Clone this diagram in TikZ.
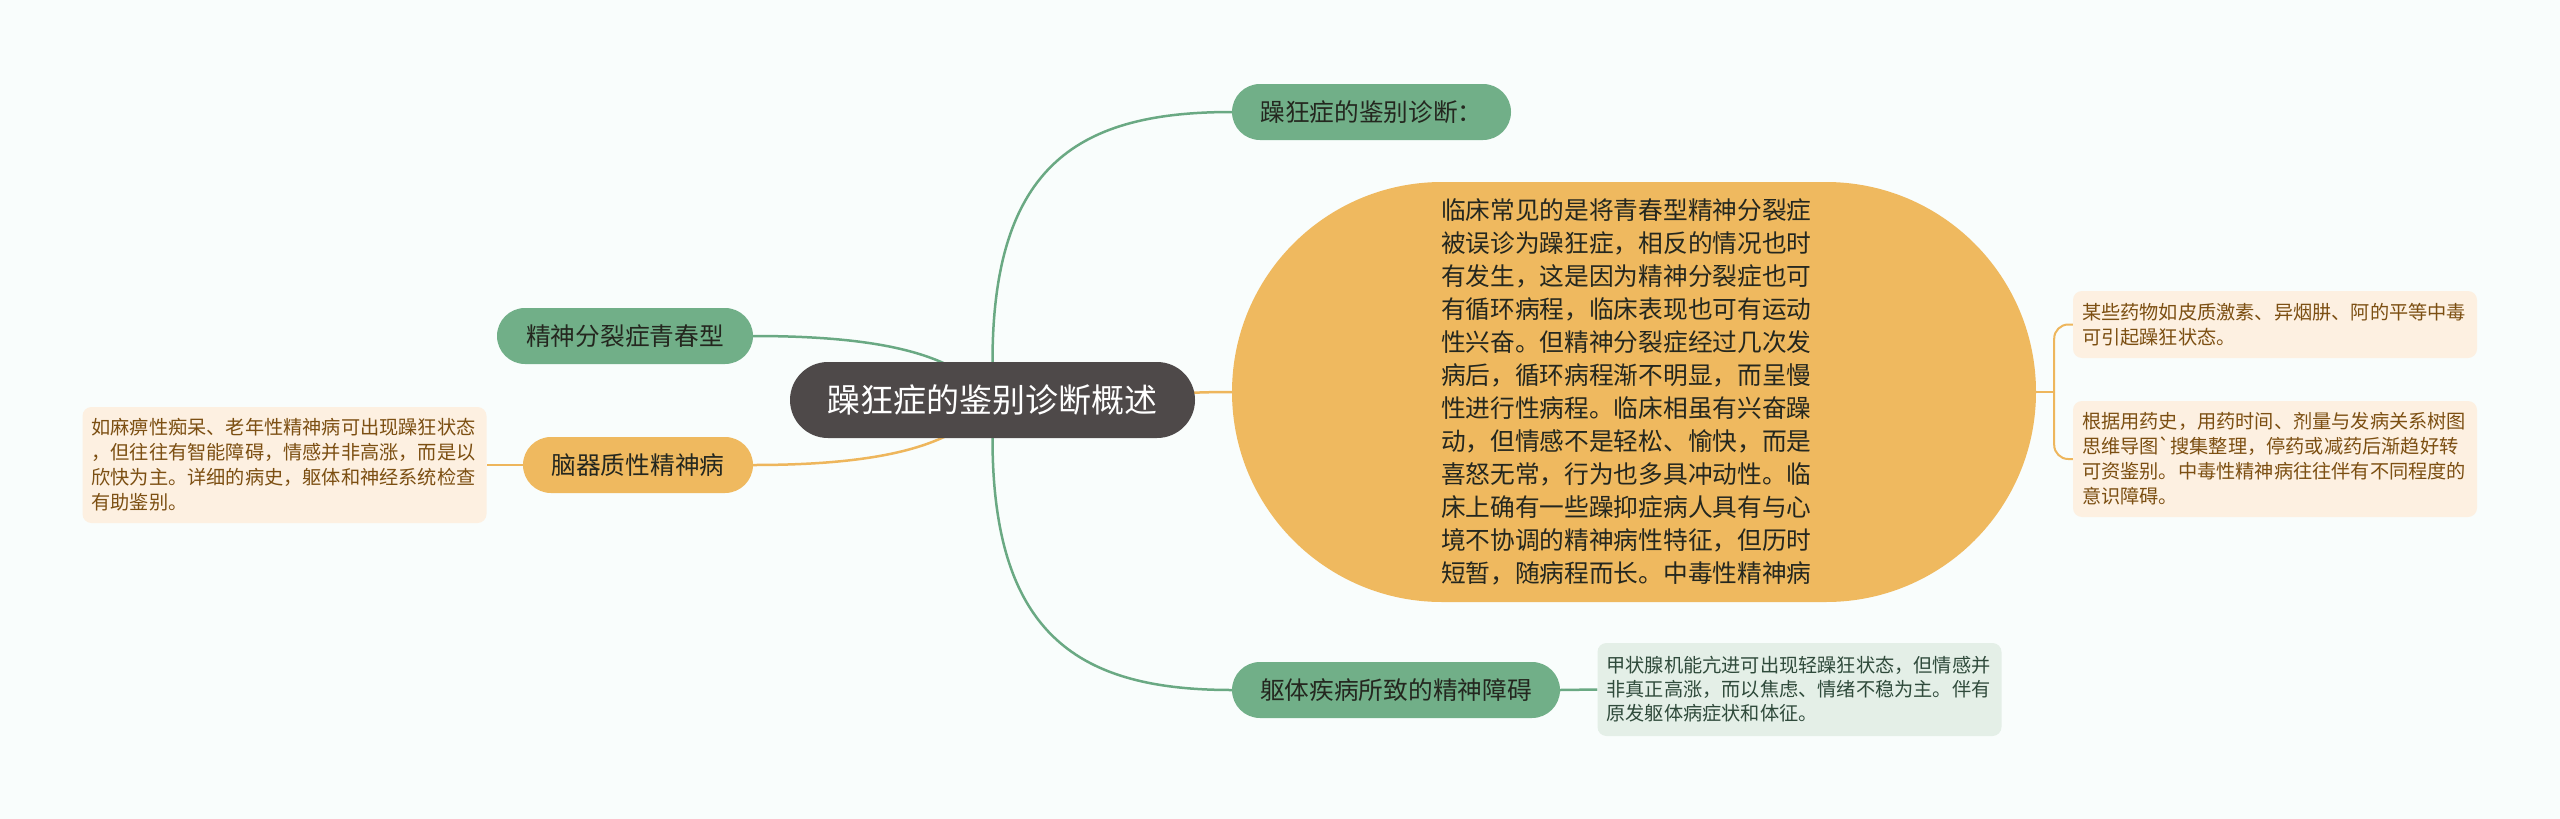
\documentclass[tikz,border=0pt]{standalone}
\usepackage{fontspec}
\setmainfont{Noto Sans CJK SC}[Ligatures=TeXOff]
\usetikzlibrary{positioning}

\definecolor{bgc}{HTML}{F9FDFC}
\definecolor{grn}{HTML}{71AF88}
\definecolor{grnline}{HTML}{6AA983}
\definecolor{org}{HTML}{EFB95F}
\definecolor{orgline}{HTML}{EEB65C}
\definecolor{rootc}{HTML}{4E4949}
\definecolor{peach}{HTML}{FDF0E1}
\definecolor{peachtxt}{HTML}{7C4F12}
\definecolor{mint}{HTML}{E4EFE7}
\definecolor{minttxt}{HTML}{2F4A3B}
\definecolor{darktxt}{HTML}{24271F}

\pgfdeclarelayer{back}
\pgfdeclarelayer{links}
\pgfsetlayers{back,links,main}

\begin{document}
\begin{tikzpicture}[x=1pt,y=-1pt,
  rootbox/.style={fill=rootc,text=white,rounded corners=38pt,minimum width=405pt,minimum height=76pt,inner sep=0pt,font=\fontsize{33}{40}\selectfont},
  pill/.style={rounded corners=28pt,minimum height=56pt,inner sep=0pt,text=darktxt,font=\fontsize{24.7}{30}\selectfont},
  gpill/.style={pill,fill=grn},
  opill/.style={pill,fill=org},
  note/.style={rounded corners=9pt,inner xsep=9pt,inner ysep=0pt,align=left,text width=386pt,font=\fontsize{19.2}{25}\selectfont},
  pnote/.style={note,fill=peach,text=peachtxt},
  mnote/.style={note,fill=mint,text=minttxt},
  glink/.style={draw=grnline,line width=2.5pt},
  olink/.style={draw=orgline,line width=2.5pt}]

\begin{pgfonlayer}{back}
\fill[bgc] (0,0) rectangle (2560,819);
\end{pgfonlayer}

\node (root) at (992.5,400) [rootbox]{躁狂症的鉴别诊断概述};

\node (diag) at (1371.5,112) [gpill,minimum width=279pt]{躁狂症的鉴别诊断：};
\node (young) at (625,336) [gpill,minimum width=256pt]{精神分裂症青春型};
\node (brain) at (638,465) [opill,minimum width=230pt]{脑器质性精神病};
\node (body) at (1396,690) [gpill,minimum width=328pt]{躯体疾病所致的精神障碍};

\node (big) at (1634,392) [fill=org,rounded corners=210pt,minimum width=804pt,minimum height=420pt,inner sep=0pt,text=darktxt,align=left,text width=372pt,font=\fontsize{24.7}{33}\selectfont]{\hspace*{-7pt}临床常见的是将青春型精神分裂症\\\hspace*{-7pt}被误诊为躁狂症，相反的情况也时\\\hspace*{-7pt}有发生，这是因为精神分裂症也可\\\hspace*{-7pt}有循环病程，临床表现也可有运动\\\hspace*{-7pt}性兴奋。但精神分裂症经过几次发\\\hspace*{-7pt}病后，循环病程渐不明显，而呈慢\\\hspace*{-7pt}性进行性病程。临床相虽有兴奋躁\\\hspace*{-7pt}动，但情感不是轻松、愉快，而是\\\hspace*{-7pt}喜怒无常，行为也多具冲动性。临\\\hspace*{-7pt}床上确有一些躁抑症病人具有与心\\\hspace*{-7pt}境不协调的精神病性特征，但历时\\\hspace*{-7pt}短暂，随病程而长。中毒性精神病};

\node (brainbox) at (284.5,465) [pnote,minimum height=116pt]{如麻痹性痴呆、老年性精神病可出现躁狂状态\\，但往往有智能障碍，情感并非高涨，而是以\\欣快为主。详细的病史，躯体和神经系统检查\\有助鉴别。};
\node (drug1) at (2275,324.5) [pnote,minimum height=67pt]{某些药物如皮质激素、异烟肼、阿的平等中毒\\可引起躁狂状态。};
\node (drug2) at (2275,459) [pnote,minimum height=116pt]{根据用药史，用药时间、剂量与发病关系树图\\思维导图`搜集整理，停药或减药后渐趋好转\\可资鉴别。中毒性精神病往往伴有不同程度的\\意识障碍。};
\node (bodybox) at (1799.5,689.5) [mnote,minimum height=93pt,font=\fontsize{19.2}{24}\selectfont]{甲状腺机能亢进可出现轻躁狂状态，但情感并\\非真正高涨，而以焦虑、情绪不稳为主。伴有\\原发躯体病症状和体征。};

\begin{pgfonlayer}{links}
\draw[glink] (root.north) .. controls +(0,-200) and +(-150,0) .. (diag.west);
\draw[glink] (root.south) .. controls +(0,200) and +(-150,0) .. (body.west);
\draw[glink] (young.east) .. controls +(147,0) and +(-32,-40) .. (root.center);
\draw[olink] (brain.east) .. controls +(147,0) and +(-32,40) .. (root.center);
\draw[olink] (root.center) .. controls +(150,0) and +(-80,0) .. (big.west);
\draw[olink] (brain.west) -- (brainbox.east);
\draw[glink] (body.east) -- (bodybox.west);

\draw[olink,line width=2pt] (big.east) -- ++(18,0) coordinate (fork);
\draw[olink,line width=2pt,rounded corners=14pt] (fork) |- (drug1.west);
\draw[olink,line width=2pt,rounded corners=14pt] (fork) |- (drug2.west);
\end{pgfonlayer}

\end{tikzpicture}
\end{document}
